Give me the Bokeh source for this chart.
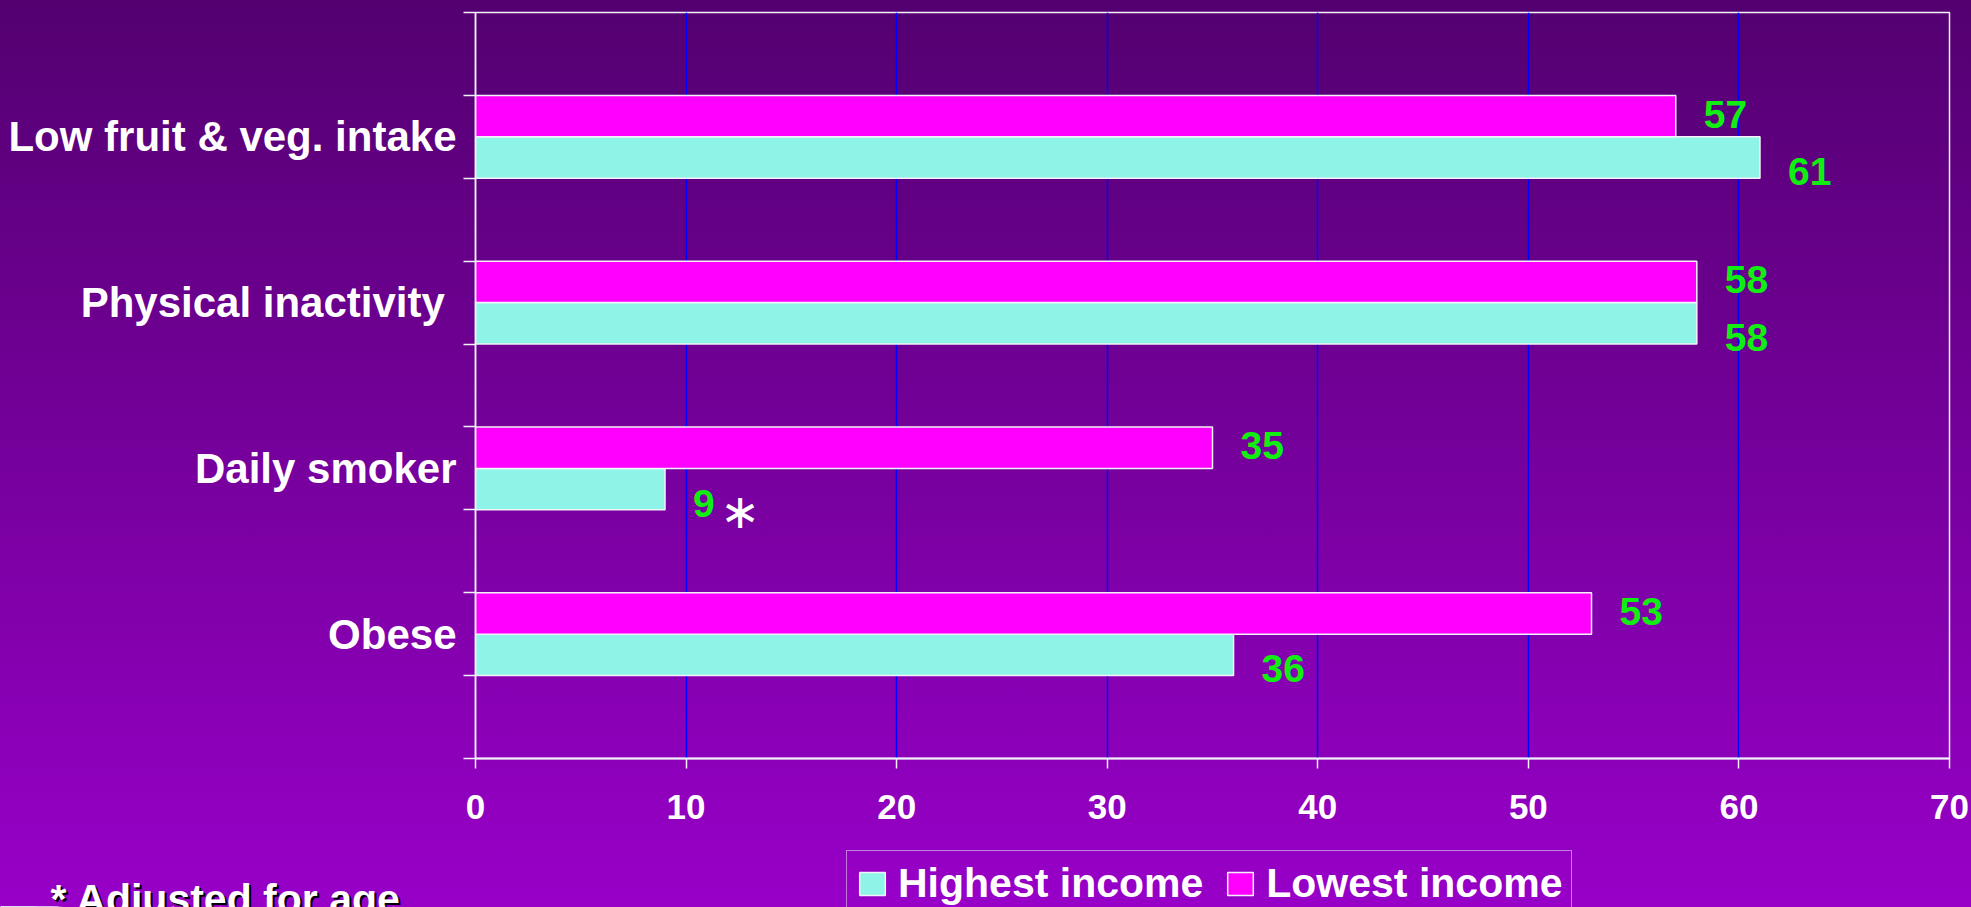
from bokeh.plotting import figure
from bokeh.models import Range1d, FixedTicker, Legend, LegendItem, Label, ColumnDataSource
from bokeh.core.properties import value
from bokeh.embed import file_html
from bokeh.resources import INLINE

# ---- data ----
categories = ["Low fruit & veg. intake", "Physical inactivity ", "Daily smoker", "Obese"]
highest_income = [61, 58, 9, 36]
lowest_income = [57, 58, 35, 53]
x_ticks = [0, 10, 20, 30, 40, 50, 60, 70]
series_names = ["Highest income", "Lowest income"]
adjusted_marker = "\u2217"
footnote = "* Adjusted for age"

FONT = "Liberation Sans"
WHITE = "#F2F2F8"
CYAN = "#8FF4E8"
MAGENTA = "#FF00FF"
GREEN = "#11EE11"

W = 1971
H_MAIN = 840
H_FOOT = 67

n = len(categories)
centers = [2 * (n - 1 - i) + 1.5 for i in range(n)]
hi_y = [c - 0.25 for c in centers]
lo_y = [c + 0.25 for c in centers]

src_hi = ColumnDataSource(dict(y=hi_y, v=highest_income, t=[str(v) for v in highest_income]))
src_lo = ColumnDataSource(dict(y=lo_y, v=lowest_income, t=[str(v) for v in lowest_income]))

bar_hi = dict(fill_color=CYAN, line_color=WHITE, line_width=1.5)
bar_lo = dict(fill_color=MAGENTA, line_color=WHITE, line_width=1.5)

p = figure(width=W, height=H_MAIN,
           min_border_left=475, min_border_right=22, min_border_top=12, min_border_bottom=82,
           x_range=Range1d(x_ticks[0], x_ticks[-1]), y_range=Range1d(0, 2 * n + 1),
           output_backend="svg", toolbar_location=None)
p.background_fill_alpha = 0
p.border_fill_alpha = 0
p.outline_line_color = WHITE
p.outline_line_width = 1.5

p.hbar(y="y", right="v", left=0, height=0.5, source=src_hi, **bar_hi)
p.hbar(y="y", right="v", left=0, height=0.5, source=src_lo, **bar_lo)

# value labels
p.text(x="v", y="y", text="t", source=src_hi, x_offset=28, y_offset=14,
       text_font=value(FONT), text_font_style="bold", text_font_size="39px",
       text_color=GREEN, text_align="left", text_baseline="middle")
p.text(x="v", y="y", text="t", source=src_lo, x_offset=28, y_offset=-2,
       text_font=value(FONT), text_font_style="bold", text_font_size="39px",
       text_color=GREEN, text_align="left", text_baseline="middle")
# asterisk next to the smoker value
p.text(x=[highest_income[2]], y=[hi_y[2]], text=[adjusted_marker], x_offset=55, y_offset=22,
       text_font=value("DejaVu Sans"), text_font_size="48px",
       text_color="white", text_align="left", text_baseline="middle")

# x axis
xa = p.xaxis[0]
xa.ticker = FixedTicker(ticks=x_ticks)
xa.axis_line_color = WHITE
xa.axis_line_width = 2
xa.major_tick_line_color = WHITE
xa.major_tick_line_width = 1.5
xa.major_tick_out = 10
xa.major_tick_in = 0
xa.minor_tick_line_color = None
xa.major_label_text_font = FONT
xa.major_label_text_font_style = "bold"
xa.major_label_text_font_size = "35px"
xa.major_label_text_color = "white"
xa.major_label_standoff = 26

# y axis
ya = p.yaxis[0]
ya.ticker = FixedTicker(ticks=centers, minor_ticks=list(range(2 * n + 2)))
ya.major_label_overrides = {c: lab for c, lab in zip(centers, categories)}
ya.axis_line_color = WHITE
ya.axis_line_width = 1.5
ya.major_tick_line_color = None
ya.major_tick_out = 0
ya.major_tick_in = 0
ya.minor_tick_line_color = WHITE
ya.minor_tick_line_width = 1.5
ya.minor_tick_out = 12
ya.minor_tick_in = 0
ya.major_label_text_font = FONT
ya.major_label_text_font_style = "bold"
ya.major_label_text_font_size = "42px"
ya.major_label_text_color = "white"
ya.major_label_standoff = 7

p.xgrid.ticker = FixedTicker(ticks=x_ticks)
p.xgrid.grid_line_color = "#0000FF"
p.xgrid.grid_line_width = 1.5
p.ygrid.visible = False

# ---- bottom strip: legend + footnote (separate root, no frame alignment) ----
f = figure(width=W, height=H_FOOT, min_border=0,
           x_range=Range1d(0, W), y_range=Range1d(0, H_FOOT),
           x_axis_type=None, y_axis_type=None,
           output_backend="svg", toolbar_location=None)
f.background_fill_alpha = 0
f.border_fill_alpha = 0
f.outline_line_color = None
f.grid.visible = False
# the series bars, mapped onto a range that lies outside this strip, serve as legend keys
f.extra_y_ranges = {"offstrip": Range1d(1000, 1001)}
g_hi = f.hbar(y="y", right="v", left=0, height=0.5, source=src_hi, y_range_name="offstrip", **bar_hi)
g_lo = f.hbar(y="y", right="v", left=0, height=0.5, source=src_lo, y_range_name="offstrip", **bar_lo)

legend = Legend(items=[LegendItem(label=series_names[0], renderers=[g_hi]),
                       LegendItem(label=series_names[1], renderers=[g_lo])],
                orientation="horizontal", location=(846, -10),
                label_text_font=FONT, label_text_font_style="bold",
                label_text_font_size="41px", label_text_color="white",
                label_height=45,
                glyph_width=32, glyph_height=29, label_standoff=10, spacing=21,
                padding=9, margin=0, border_line_color=WHITE, border_line_width=1.5,
                background_fill_alpha=0)
f.add_layout(legend)

shadow = Label(x=52, y=29.5, text=footnote,
               text_font=FONT, text_font_style="bold", text_font_size="41px",
               text_color="black", text_baseline="top", text_align="left")
note = Label(x=50, y=31.5, text=footnote,
             text_font=FONT, text_font_style="bold", text_font_size="41px",
             text_color="white", text_baseline="top", text_align="left")
f.add_layout(shadow)
f.add_layout(note)

html = file_html([p, f], INLINE)
style = "<style>html{min-height:100%;background:linear-gradient(#530070,#9800C8) fixed;}</style>"
html = html.replace("</head>", style + "</head>", 1)
open("out.html", "w").write(html)
